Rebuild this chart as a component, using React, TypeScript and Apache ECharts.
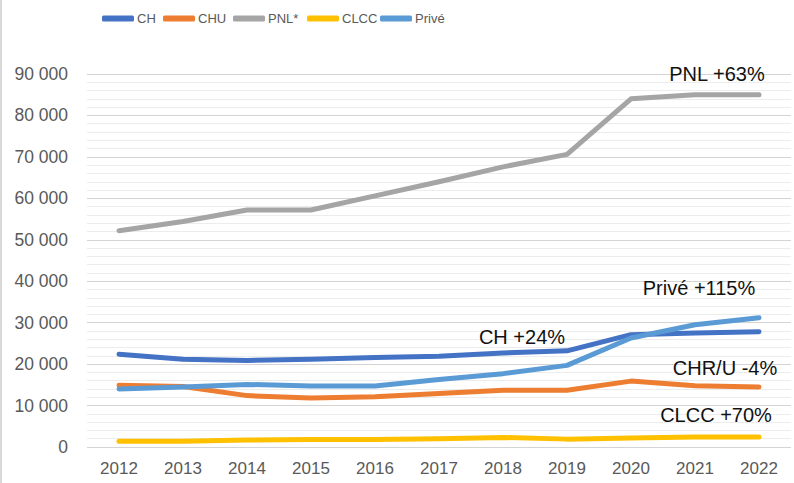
import React, { useEffect, useRef } from "react";
import * as echarts from "echarts";

const years = ["2012", "2013", "2014", "2015", "2016", "2017", "2018", "2019", "2020", "2021", "2022"];
const seriesNames = ["CH", "CHU", "PNL*", "CLCC", "Privé"];
const chValues = [22400, 21200, 20900, 21200, 21600, 21900, 22700, 23200, 27100, 27500, 27800];
const chuValues = [14900, 14600, 12400, 11800, 12100, 12900, 13700, 13700, 15900, 14800, 14500];
const pnlValues = [52200, 54400, 57200, 57200, 60600, 64000, 67600, 70600, 84000, 85000, 85000];
const clccValues = [1400, 1400, 1700, 1800, 1800, 2000, 2300, 1900, 2200, 2400, 2400];
const priveValues = [14000, 14500, 15100, 14700, 14700, 16300, 17700, 19700, 26300, 29500, 31200];
const colors = ["#4472c4", "#ed7d31", "#a5a5a5", "#ffc000", "#5b9bd5"];
const legendLefts = [102, 163, 233, 307, 380];
const annotations = [
  { text: "PNL +63%", x: 717, y: 74 },
  { text: "Privé +115%", x: 699, y: 288 },
  { text: "CH +24%", x: 522, y: 337 },
  { text: "CHR/U -4%", x: 725, y: 368 },
  { text: "CLCC +70%", x: 716, y: 415 },
];

const FONT = '"Liberation Sans", Arial, sans-serif';

export default function App() {
  const ref = useRef<HTMLDivElement>(null);
  useEffect(() => {
    if (!ref.current) return;
    const chart = echarts.init(ref.current, null, { renderer: "svg" });
    const data = [chValues, chuValues, pnlValues, clccValues, priveValues];
    chart.setOption({
      animation: false,
      backgroundColor: "#ffffff",
      textStyle: { fontFamily: FONT },
      legend: seriesNames.map((name, i) => ({
        data: [name],
        left: legendLefts[i],
        top: 12,
        padding: 0,
        itemWidth: 32,
        itemHeight: 6,
        icon: "roundRect",
        selectedMode: false,
        textStyle: {
          fontFamily: FONT,
          fontSize: 13,
          color: "#595959",
          padding: [0, 0, 0, -2],
        },
      })),
      grid: { left: 87, right: 3, top: 74, bottom: 36, containLabel: false },
      xAxis: {
        type: "category",
        data: years,
        boundaryGap: true,
        axisLine: { show: false },
        axisTick: { show: false },
        axisLabel: { color: "#595959", fontSize: 17, margin: 13, fontFamily: FONT },
      },
      yAxis: {
        type: "value",
        min: 0,
        max: 90000,
        interval: 10000,
        axisLine: { show: false },
        axisTick: { show: false },
        axisLabel: {
          color: "#595959",
          fontSize: 17.5,
          margin: 19,
          fontFamily: FONT,
          formatter: (v: number) => String(v).replace(/\B(?=(\d{3})+(?!\d))/g, " "),
        },
        splitLine: { show: true, lineStyle: { color: "#d4d4d4", width: 1 } },
        minorTick: { show: false, splitNumber: 5 },
        minorSplitLine: { show: true, lineStyle: { color: "#ececec", width: 1 } },
      },
      series: seriesNames.map((name, i) => ({
        name,
        type: "line",
        data: data[i],
        showSymbol: false,
        symbol: "none",
        smooth: false,
        color: colors[i],
        lineStyle: { width: 5, color: colors[i], cap: "round", join: "round" },
        emphasis: { disabled: true },
        z: 2 + i,
      })),
      graphic: [
        {
          type: "rect",
          left: 0,
          top: 0,
          shape: { x: 0, y: 0, width: 2, height: 483 },
          style: { fill: "#d9d9d9" },
          silent: true,
        },
        ...annotations.map((a) => ({
          type: "text",
          x: a.x,
          y: a.y,
          silent: true,
          z: 100,
          style: {
            text: a.text,
            fontSize: 20,
            fontFamily: FONT,
            fill: "#111111",
            align: "center",
            verticalAlign: "middle",
          },
        })),
      ],
    });
    return () => chart.dispose();
  }, []);
  return (
    <div
      ref={ref}
      style={{ position: "fixed", left: 0, top: 0, width: 794, height: 483, background: "#fff" }}
    />
  );
}
